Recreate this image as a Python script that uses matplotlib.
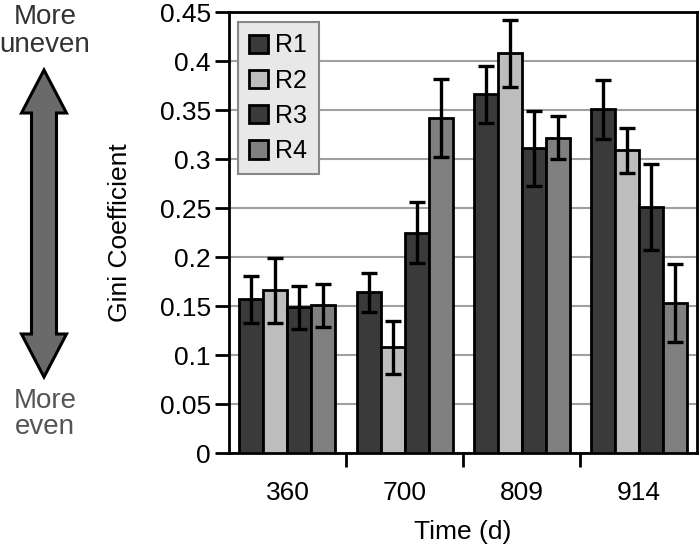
import matplotlib
matplotlib.use('Agg')
import matplotlib.pyplot as plt
import numpy as np
from matplotlib.patches import Polygon

plt.rcParams['font.family'] = ['Liberation Sans', 'DejaVu Sans']

times = ['360', '700', '809', '914']
series = ['R1', 'R2', 'R3', 'R4']
r1 = [0.157, 0.164, 0.366, 0.351]
r2 = [0.166, 0.108, 0.408, 0.309]
r3 = [0.149, 0.225, 0.311, 0.251]
r4 = [0.151, 0.342, 0.322, 0.153]
r1_err = [0.024, 0.020, 0.029, 0.030]
r2_err = [0.033, 0.027, 0.034, 0.023]
r3_err = [0.022, 0.031, 0.038, 0.044]
r4_err = [0.022, 0.040, 0.022, 0.040]

values = [r1, r2, r3, r4]
errors = [r1_err, r2_err, r3_err, r4_err]
colors = ['#3a3a3a', '#bdbdbd', '#3a3a3a', '#808080']

fig = plt.figure(figsize=(7, 5.5), dpi=100)

# decoration layer in pixel coords
bg = fig.add_axes([0, 0, 1, 1])
bg.set_xlim(0, 700)
bg.set_ylim(550, 0)
bg.axis('off')
cx, top, bot = 44, 70, 377
hw, sw, hl = 22.5, 12.5, 43
verts = [(cx, top), (cx + hw, top + hl), (cx + sw, top + hl), (cx + sw, bot - hl),
         (cx + hw, bot - hl), (cx, bot), (cx - hw, bot - hl), (cx - sw, bot - hl),
         (cx - sw, top + hl), (cx - hw, top + hl)]
bg.add_patch(Polygon(verts, closed=True, facecolor='#6a6a6a', edgecolor='black', linewidth=2.2))
bg.text(45, 31, 'More\nuneven', ha='center', va='center', fontsize=20, color='#333333', linespacing=1.05)
bg.text(45, 414, 'More\neven', ha='center', va='center', fontsize=20, color='#555555', linespacing=1.05)

ax = fig.add_axes([0.327, 0.176, 0.669, 0.802])
x = np.arange(len(times))
width = 0.205
for i, name in enumerate(series):
    offs = x + (i - 1.5) * width
    ax.bar(offs, values[i], width, color=colors[i], edgecolor='black', linewidth=2,
           label=name, zorder=3)
    ax.errorbar(offs, values[i], yerr=errors[i], fmt='none', ecolor='black',
                elinewidth=2.4, capsize=6, capthick=2.4, zorder=4)

ax.set_xlim(-0.5, 3.5)
ax.set_ylim(0, 0.45)
ax.set_yticks(np.arange(0, 0.46, 0.05))
ax.set_yticklabels(['0', '0.05', '0.1', '0.15', '0.2', '0.25', '0.3', '0.35', '0.4', '0.45'])
ax.yaxis.grid(True, color='#a0a0a0', linewidth=1.5, zorder=0)
ax.set_axisbelow(True)
ax.set_xticks(x)
ax.set_xticklabels(times)
ax.tick_params(axis='x', length=0, labelsize=19, pad=20)
ax.set_xticks([0.5, 1.5, 2.5], minor=True)
ax.tick_params(axis='x', which='minor', direction='out', length=10, width=2)
ax.tick_params(axis='y', direction='out', length=10, width=2, labelsize=19, pad=3)
for s in ax.spines.values():
    s.set_linewidth(2)
ax.set_ylabel('Gini Coefficient', fontsize=19, labelpad=20)
ax.set_xlabel('Time (d)', fontsize=19, labelpad=11)

leg = ax.legend(loc='upper left', bbox_to_anchor=(0.019, 0.977), borderaxespad=0,
                fontsize=18, frameon=True, fancybox=False, framealpha=1,
                handlelength=0.75, handleheight=0.75, handletextpad=0.3,
                labelspacing=0.45, borderpad=0.45)
leg.get_frame().set_facecolor('#e8e8e8')
leg.get_frame().set_edgecolor('#888888')
leg.get_frame().set_linewidth(1.5)

fig.savefig('out.png', dpi=100)
